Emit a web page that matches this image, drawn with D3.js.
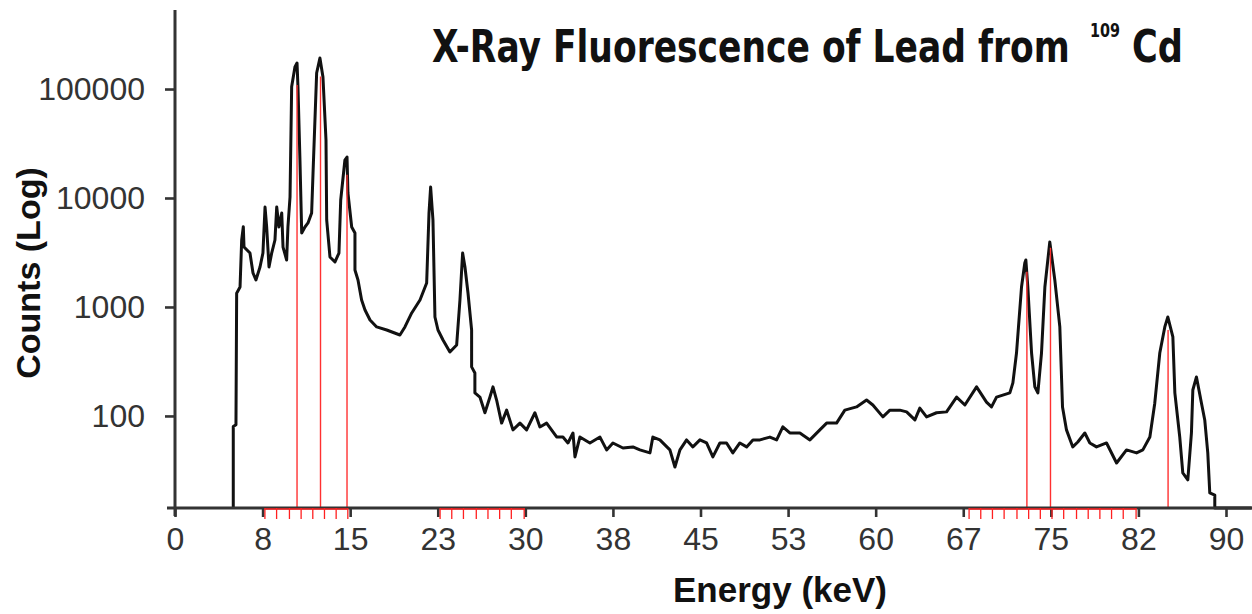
<!DOCTYPE html>
<html>
<head>
<meta charset="utf-8">
<script src="https://cdn.jsdelivr.net/npm/d3@7"></script>
<style>
  body { margin: 0; background: #fff; }
  svg { display: block; }
  .tick text { font-family: "Liberation Sans", Arial, sans-serif; font-size: 32px; fill: #333; }
</style>
</head>
<body>
<svg id="chart"></svg>
<script>
var W = 1252, H = 614;

// spectrum: energy (keV) and counts
var energy = [4.99, 4.99, 5.22, 5.28, 5.57, 5.71, 5.85, 5.91, 6.42, 6.68, 6.93, 7.28, 7.53, 7.71, 7.85, 8.05,
  8.28, 8.56, 8.71, 8.90, 9.14, 9.25, 9.56, 9.67, 9.85, 9.99, 10.27, 10.45, 10.53, 10.70, 10.85, 11.13,
  11.39, 11.70, 11.82, 12.13, 12.41, 12.67, 12.93, 12.99, 13.27, 13.70, 14.04, 14.19, 14.55, 14.73, 14.81,
  15.13, 15.41, 15.41, 15.67, 15.98, 16.27, 16.70, 17.27, 18.13, 19.26, 19.69, 20.27, 20.98, 21.55, 21.75,
  21.89, 22.09, 22.26, 22.52, 22.95, 23.54, 24.12, 24.40, 24.63, 24.83, 25.09, 25.40, 25.40, 25.68, 25.68,
  26.11, 26.54, 26.97, 27.23, 27.54, 27.97, 28.40, 28.94, 29.54, 30.11, 30.82, 31.25, 31.82, 32.68, 33.22,
  33.65, 34.08, 34.25, 34.67, 35.53, 36.39, 36.96, 37.50, 38.36, 39.21, 39.81, 40.67, 40.92, 41.52, 42.38,
  42.81, 43.24, 43.81, 44.35, 44.95, 45.52, 46.06, 46.66, 47.23, 47.77, 48.37, 48.95, 49.49, 50.09, 50.94,
  51.52, 52.05, 52.65, 53.51, 54.37, 55.22, 55.80, 56.65, 57.36, 58.36, 59.22, 59.76, 60.62, 61.22, 62.07,
  62.65, 63.36, 63.78, 64.36, 65.21, 66.07, 66.93, 67.64, 68.64, 69.49, 69.92, 70.35, 71.49, 71.75, 72.06,
  72.49, 72.77, 72.86, 73.03, 73.35, 73.63, 73.89, 74.20, 74.49, 74.91, 75.34, 75.77, 76.00, 76.34, 76.88,
  77.31, 77.91, 78.34, 78.91, 79.77, 80.63, 81.48, 82.34, 82.88, 83.48, 83.90, 84.33, 84.76, 85.02, 85.45,
  85.62, 86.04, 86.30, 86.73, 87.04, 87.16, 87.47, 87.90, 88.18, 88.44, 88.61, 89.04, 89.04, 92.2];

var counts = [14, 80, 83, 1336, 1525, 4117, 5454, 3548, 3126, 2051, 1770, 2328, 3126, 8266, 5420, 2328,
  3126, 4117, 8266, 5420, 7282, 3548, 2699, 5420, 10210, 104970, 159200, 173300, 104300, 22320, 4775, 5420,
  5900, 7282, 16950, 140200, 192300, 128900, 34040, 6281, 2877, 2588, 3126, 9590, 22320, 23770, 11120,
  5420, 4775, 2185, 1770, 1159, 938, 760, 656, 615, 553, 656, 881, 1159, 1660, 7282,
  12610, 6281, 809, 615, 498, 386, 448, 1159, 3126, 2328, 1343, 615, 282, 248, 163,
  149, 107, 149, 185, 140, 86, 113, 74.5, 86, 74.5, 107, 79.3, 86, 64.2, 64,
  56.5, 69.8, 42.1, 64, 56.5, 64, 48.8, 56.5, 50.8, 52, 48.8, 45.8, 64, 60.3, 48.8,
  34, 48.8, 60.3, 52, 60.3, 56.5, 42.1, 56.5, 56.5, 45.8, 56.5, 52, 60.3, 60.3, 64,
  60.3, 79.3, 69.8, 69.8, 60.3, 74.5, 86, 86, 113, 121, 140, 126, 98, 113, 113,
  109, 91.9, 118, 98, 107, 109, 149, 126, 185, 134, 121, 149, 163, 201, 378,
  1525, 2535, 2699, 1525, 378, 185, 163, 378, 1525, 3948, 1770, 656, 121, 74.5, 52,
  57.7, 69.8, 56.5, 52, 56.5, 37, 48.8, 45.8, 48.8, 64, 131, 378, 656, 809, 531,
  163, 64, 30, 25.9, 69.8, 173, 228, 131, 91.9, 45.8, 19.7, 18.8, 14, 14];

// red marker lines at the lead lines
var lineEnergy = [10.45, 12.46, 14.73, 72.95, 74.97, 85.04];
var lineCounts = [109000, 130000, 16300, 2100, 3500, 615];

// red sub-tick brackets under the axis
var bracketA = [7.7, 8.7, 9.8, 10.8, 11.8, 12.8, 13.8, 14.8];
var bracketB = [22.7, 23.7, 24.7, 25.8, 26.8, 27.8, 28.8, 29.9];
var bracketC = [68.0, 69.0, 70.0, 71.0, 72.1, 73.1, 74.1, 75.1, 76.1, 77.2, 78.2, 79.2, 80.2, 81.2, 82.3];

var xTicks = [0, 7.5, 15, 22.5, 30, 37.5, 45, 52.5, 60, 67.5, 75, 82.5, 90];
var xTickLabels = ["0", "8", "15", "23", "30", "38", "45", "53", "60", "67", "75", "82", "90"];
var yTicks = [100, 1000, 10000, 100000];
var yTickLabels = ["100", "1000", "10000", "100000"];

var svg = d3.select("#chart").attr("width", W).attr("height", H);

var x = d3.scaleLinear().domain([0, 90]).range([175, 1226]);
var y = d3.scaleLog().domain([14.3, 531000]).range([508, 10]).clamp(true);

// spectrum
var line = d3.line()
  .x(function(d, i) { return x(energy[i]); })
  .y(function(d, i) { return y(counts[i]); });

svg.append("path")
  .datum(energy)
  .attr("d", line)
  .attr("fill", "none")
  .attr("stroke", "#111")
  .attr("stroke-width", 3)
  .attr("stroke-linejoin", "round");

// red lines
svg.selectAll(".pbline")
  .data(lineEnergy)
  .enter().append("line")
  .attr("class", "pbline")
  .attr("x1", function(d) { return x(d); })
  .attr("x2", function(d) { return x(d); })
  .attr("y1", function(d, i) { return y(lineCounts[i]); })
  .attr("y2", y.range()[0])
  .attr("stroke", "#ff3030")
  .attr("stroke-width", 1.4);

// axes
var xAxis = d3.axisBottom(x)
  .tickValues(xTicks)
  .tickFormat(function(d, i) { return xTickLabels[i]; })
  .tickSize(9)
  .tickPadding(10);

var gx = svg.append("g")
  .attr("transform", "translate(0," + y.range()[0] + ")")
  .call(xAxis);
gx.select(".domain").remove();
gx.selectAll(".tick line").attr("stroke", "#333").attr("stroke-width", 2.6);

svg.append("line")
  .attr("x1", 167).attr("x2", W)
  .attr("y1", y.range()[0]).attr("y2", y.range()[0])
  .attr("stroke", "#333").attr("stroke-width", 3);

var yAxis = d3.axisLeft(y)
  .tickValues(yTicks)
  .tickFormat(function(d, i) { return yTickLabels[i]; })
  .tickSize(10)
  .tickPadding(20);

var gy = svg.append("g")
  .attr("transform", "translate(" + x(0) + ",0)")
  .call(yAxis);
gy.select(".domain").remove();
gy.selectAll(".tick line").attr("stroke", "#333").attr("stroke-width", 2.6);

svg.append("line")
  .attr("x1", x(0)).attr("x2", x(0))
  .attr("y1", 10).attr("y2", 516)
  .attr("stroke", "#333").attr("stroke-width", 3);

// red brackets
[bracketA, bracketB, bracketC].forEach(function(br) {
  var g = svg.append("g");
  g.append("line")
    .attr("x1", x(br[0])).attr("x2", x(br[br.length - 1]))
    .attr("y1", y.range()[0] + 1).attr("y2", y.range()[0] + 1)
    .attr("stroke", "#ff2020").attr("stroke-width", 1.5);
  g.selectAll("line.sub")
    .data(br)
    .enter().append("line")
    .attr("class", "sub")
    .attr("x1", function(d) { return x(d); })
    .attr("x2", function(d) { return x(d); })
    .attr("y1", y.range()[0])
    .attr("y2", y.range()[0] + 11)
    .attr("stroke", "#ff2020").attr("stroke-width", 1.3);
});

// labels
svg.append("text")
  .attr("x", 780).attr("y", 602)
  .attr("text-anchor", "middle")
  .style("font-family", "Liberation Sans, Arial, sans-serif")
  .style("font-weight", "bold")
  .style("font-size", "35px")
  .attr("fill", "#111")
  .text("Energy (keV)");

svg.append("text")
  .attr("transform", "translate(40,273) rotate(-90)")
  .attr("text-anchor", "middle")
  .style("font-family", "Liberation Sans, Arial, sans-serif")
  .style("font-weight", "bold")
  .style("font-size", "34px")
  .attr("fill", "#111")
  .text("Counts (Log)");

// title: each piece squeezed horizontally to the width it has in the picture
function titlePart(str, left, base, size, width) {
  var t = svg.append("text")
    .style("font-family", "'Liberation Sans Narrow', 'DejaVu Sans Condensed', sans-serif")
    .style("font-weight", "bold")
    .style("font-size", size + "px")
    .attr("fill", "#111")
    .text(str);
  var sx = width / t.node().getComputedTextLength();
  t.attr("transform", "translate(" + left + "," + base + ") scale(" + sx + ",1)");
}
titlePart("X-Ray Fluorescence of Lead from", 432, 62, 45, 638);
titlePart("109", 1090, 37, 20, 30);
titlePart("Cd", 1132, 62, 45, 51);
</script>
</body>
</html>
